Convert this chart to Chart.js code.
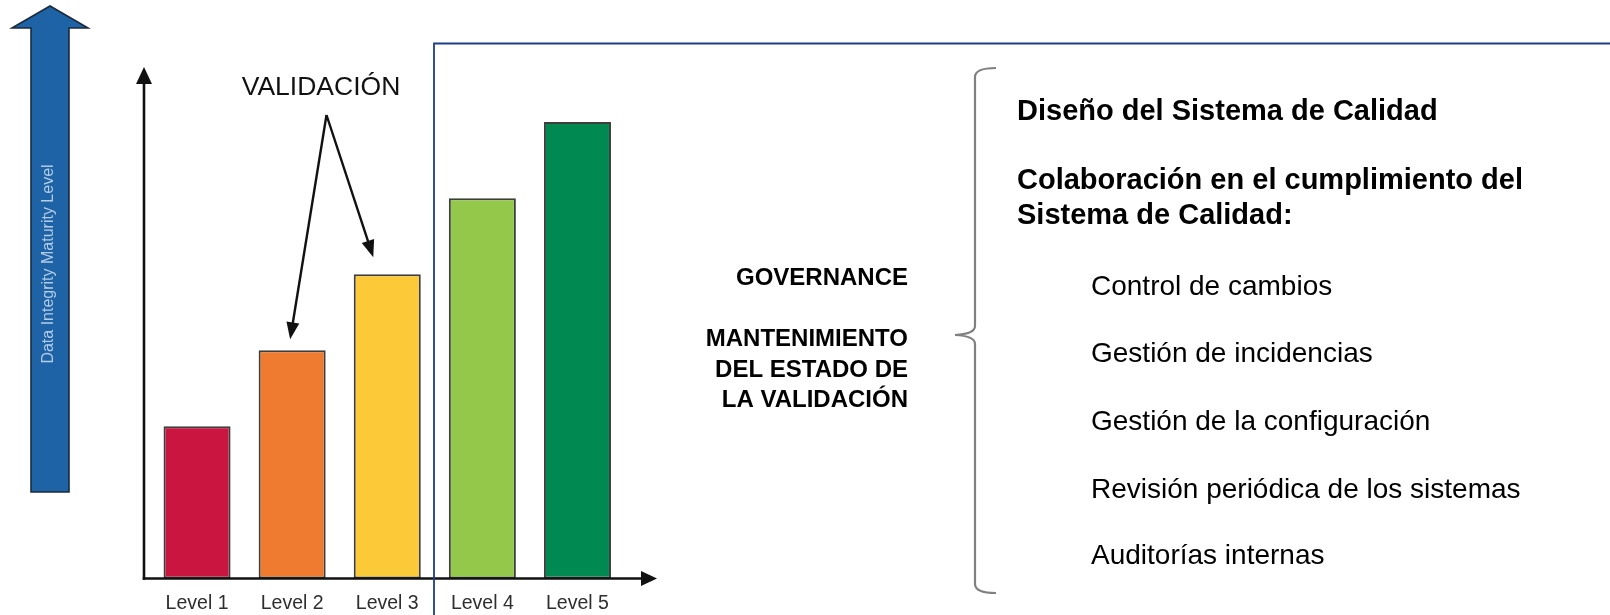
<!DOCTYPE html>
<html><head><meta charset="utf-8">
<script src="https://cdn.jsdelivr.net/npm/chart.js@4.4.1/dist/chart.umd.min.js"></script>
<style>html,body{margin:0;padding:0;background:#fff;overflow:hidden}#wrap{width:1610px;height:615px;position:relative}</style>
</head><body><div id="wrap"><canvas id="c" width="1610" height="615"></canvas></div>
<script>
const categories = ['Level 1', 'Level 2', 'Level 3', 'Level 4', 'Level 5'];
const maturityValues = [2, 3, 4, 5, 6];
const barColors = ['#C9153F', '#EE7B2F', '#FCC938', '#94C84A', '#008A52'];
const axisTitle = 'Data Integrity Maturity Level';
const calloutLabel = 'VALIDACIÓN';
const calloutTargets = [1, 2];
const leftLabels = ['GOVERNANCE', 'MANTENIMIENTO', 'DEL ESTADO DE', 'LA VALIDACIÓN'];
const boldItems = ['Diseño del Sistema de Calidad', 'Colaboración en el cumplimiento del', 'Sistema de Calidad:'];
const subItems = ['Control de cambios', 'Gestión de incidencias', 'Gestión de la configuración', 'Revisión periódica de los sistemas', 'Auditorías internas'];

const FONT = '"Liberation Sans", Arial, Helvetica, sans-serif';

function arrowHead(ctx, fx, fy, tx, ty, len, half) {
  const a = Math.atan2(ty - fy, tx - fx);
  ctx.beginPath();
  ctx.moveTo(tx, ty);
  ctx.lineTo(tx - len * Math.cos(a) + half * Math.sin(a), ty - len * Math.sin(a) - half * Math.cos(a));
  ctx.lineTo(tx - len * Math.cos(a) - half * Math.sin(a), ty - len * Math.sin(a) + half * Math.cos(a));
  ctx.closePath();
  ctx.fill();
}
function arrowLine(ctx, fx, fy, tx, ty, len, half) {
  const a = Math.atan2(ty - fy, tx - fx);
  ctx.beginPath();
  ctx.moveTo(fx, fy);
  ctx.lineTo(tx - (len - 2) * Math.cos(a), ty - (len - 2) * Math.sin(a));
  ctx.stroke();
  arrowHead(ctx, fx, fy, tx, ty, len, half);
}

const decor = {
  id: 'decor',
  beforeDraw(chart) {
    const ctx = chart.ctx;
    ctx.save();
    ctx.fillStyle = '#ffffff';
    ctx.fillRect(0, 0, chart.width, chart.height);
    // big blue arrow
    ctx.beginPath();
    ctx.moveTo(31, 492); ctx.lineTo(31, 28); ctx.lineTo(12, 28); ctx.lineTo(50, 6);
    ctx.lineTo(88, 28); ctx.lineTo(69, 28); ctx.lineTo(69, 492); ctx.closePath();
    ctx.fillStyle = '#1E63A6';
    ctx.fill();
    ctx.lineWidth = 1.6; ctx.strokeStyle = '#1B2B3E'; ctx.stroke();
    ctx.translate(49, 264); ctx.rotate(-Math.PI / 2);
    ctx.fillStyle = '#B3CCE8';
    ctx.font = '16px ' + FONT;
    ctx.textAlign = 'center'; ctx.textBaseline = 'middle';
    ctx.fillText(axisTitle, 0, 0);
    ctx.restore();
  },
  afterDatasetsDraw(chart) {
    const ctx = chart.ctx;
    const xs = chart.scales.x, ys = chart.scales.y;
    const base = ys.getPixelForValue(0);
    const top = ys.getPixelForValue(ys.max);
    const ax = chart.chartArea.left - 5.5;
    ctx.save();
    ctx.strokeStyle = '#111'; ctx.fillStyle = '#111'; ctx.lineWidth = 2.6;
    // axes with arrows
    arrowLine(ctx, ax, base + 1.3, ax, top + 2, 17, 8);
    arrowLine(ctx, ax - 1.3, base, 657, base, 16, 7.5);
    // callout
    ctx.font = '26.5px ' + FONT;
    ctx.textAlign = 'center'; ctx.textBaseline = 'alphabetic';
    ctx.fillText(calloutLabel, 321, 94.5);
    const apx = 326.5, apy = 115;
    ctx.lineWidth = 2.4;
    const offs = [[-2, -11], [-14, -17]];
    calloutTargets.forEach((idx, i) => {
      const tx = xs.getPixelForValue(idx) + offs[i][0];
      const ty = ys.getPixelForValue(maturityValues[idx]) + offs[i][1];
      arrowLine(ctx, apx, apy, tx, ty, 17, 6.5);
    });
    // navy frame
    ctx.strokeStyle = '#1F3C88'; ctx.lineWidth = 1.8;
    ctx.beginPath();
    ctx.moveTo(434, 620); ctx.lineTo(434, 43.5); ctx.lineTo(1615, 43.5);
    ctx.stroke();
    // left block labels
    ctx.fillStyle = '#000';
    ctx.font = 'bold 24px ' + FONT;
    ctx.textAlign = 'right';
    const lb = [285, 345.5, 376.5, 406.5];
    leftLabels.forEach((t, i) => ctx.fillText(t, 908, lb[i]));
    // brace
    ctx.strokeStyle = '#808080'; ctx.lineWidth = 2.2;
    ctx.beginPath();
    ctx.moveTo(996, 68);
    ctx.quadraticCurveTo(975, 68, 975, 77);
    ctx.lineTo(975, 326);
    ctx.quadraticCurveTo(975, 334, 955, 335);
    ctx.quadraticCurveTo(975, 336, 975, 344);
    ctx.lineTo(975, 584);
    ctx.quadraticCurveTo(975, 593, 996, 593);
    ctx.stroke();
    // right text
    ctx.textAlign = 'left'; ctx.textBaseline = 'middle'; ctx.fillStyle = '#000';
    ctx.font = 'bold 29px ' + FONT;
    const by = [112, 181, 216];
    boldItems.forEach((t, i) => ctx.fillText(t, 1017, by[i]));
    ctx.font = '28px ' + FONT;
    const sy = [287.5, 354.5, 422.5, 490.5, 556.5];
    subItems.forEach((t, i) => ctx.fillText(t, 1091, sy[i]));
    ctx.restore();
  }
};

new Chart(document.getElementById('c'), {
  type: 'bar',
  data: {
    labels: categories,
    datasets: [{
      data: maturityValues,
      backgroundColor: barColors,
      borderColor: '#3E3E3E',
      borderWidth: 2,
      borderSkipped: false,
      categoryPercentage: 1,
      barPercentage: 0.705
    }]
  },
  options: {
    responsive: false,
    devicePixelRatio: 1,
    animation: false,
    events: [],
    layout: { padding: { left: 149.5, right: 985, top: 65, bottom: 0 } },
    plugins: { legend: { display: false }, tooltip: { enabled: false }, title: { display: false } },
    scales: {
      x: {
        grid: { display: false, drawTicks: false, tickLength: 0 },
        border: { display: false },
        ticks: { color: '#2E2E2E', font: { family: FONT, size: 19.5 }, padding: 13, maxRotation: 0 },
        afterFit: (s) => { s.height = 36.5; }
      },
      y: { display: false, min: 0, max: 6.75 }
    }
  },
  plugins: [decor]
});
</script>
</body></html>
